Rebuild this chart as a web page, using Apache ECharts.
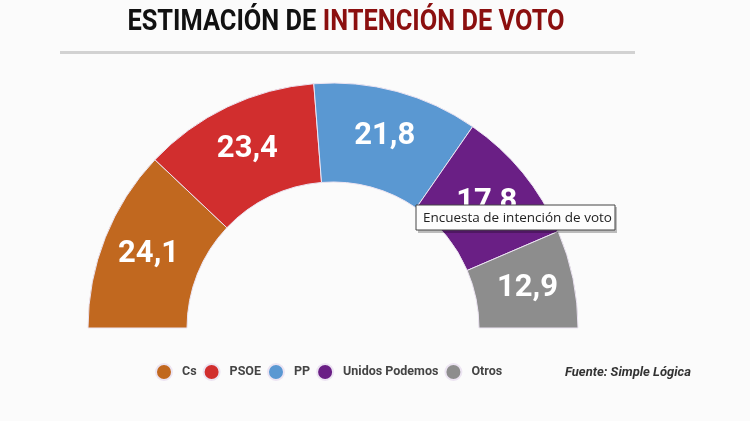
<!DOCTYPE html>
<html>
<head>
<meta charset="utf-8">
<script src="https://cdn.jsdelivr.net/npm/echarts@6/dist/echarts.min.js"></script>
<style>
  html, body { margin: 0; padding: 0; background: #fbfbfb; }
  #chart { width: 750px; height: 421px; }
</style>
</head>
<body>
<div id="chart"></div>
<script>
// datos de la estimación
var partidos = ['Cs', 'PSOE', 'PP', 'Unidos Podemos', 'Otros'];
var votos = [24.1, 23.4, 21.8, 17.8, 12.9];
var colores = ['#c1681f', '#d12e2e', '#5a98d2', '#6a1f85', '#8d8d8d'];

var myChart = echarts.init(document.getElementById('chart'));

var datos = [];
for (var i = 0; i < partidos.length; i++) {
    datos.push({ name: partidos[i], value: votos[i], itemStyle: { color: colores[i] } });
}

var option = {
    backgroundColor: '#fbfbfb',
    animation: false,
    legend: {
        data: partidos,
        left: 155,
        top: 363,
        padding: 0,
        icon: 'circle',
        itemWidth: 16,
        itemHeight: 16,
        itemGap: 6,
        selectedMode: false,
        textStyle: { fontSize: 12.5, fontWeight: 'bold', color: '#444', fontFamily: 'Roboto', padding: [0, 0, 0, 5] }
    },
    series: [{
        type: 'pie',
        center: [333, 328],
        radius: [146, 245],
        startAngle: 180,
        endAngle: 360,
        silent: true,
        itemStyle: { borderColor: '#ece4f2', borderWidth: 1 },
        label: {
            show: true,
            position: 'inside',
            color: '#fff',
            fontSize: 31,
            fontWeight: 'bold',
            fontFamily: 'Roboto',
            formatter: function (p) { return p.value.toFixed(1).replace('.', ','); }
        },
        labelLine: { show: false },
        data: datos
    }],
    graphic: [
        {
            type: 'group', x: 346, y: 23, scaleX: 0.876,
            children: [{
                type: 'text',
                style: {
                    text: '{a|ESTIMACIÓN DE }{b|INTENCIÓN DE VOTO}',
                    align: 'center', verticalAlign: 'middle',
                    rich: {
                        a: { fontSize: 29, fontWeight: 'bold', fontFamily: 'Roboto', fill: '#111' },
                        b: { fontSize: 29, fontWeight: 'bold', fontFamily: 'Roboto', fill: '#8b0f0f' }
                    }
                }
            }]
        },
        { type: 'rect', shape: { x: 60, y: 51, width: 575, height: 3 }, style: { fill: '#d2d2d2' } },
        {
            type: 'text', x: 565, y: 373,
            style: { text: 'Fuente: Simple Lógica', fontSize: 13, fontStyle: 'italic', fontWeight: 'bold', fontFamily: 'Roboto', fill: '#333', verticalAlign: 'middle' }
        },
        // recuadro de ayuda que aparece en la imagen original
        { type: 'rect', z: 100, shape: { x: 418, y: 207, width: 199, height: 26 }, style: { fill: 'rgba(0,0,0,0.25)' } },
        { type: 'rect', z: 101, shape: { x: 416, y: 205, width: 199, height: 25 }, style: { fill: '#fdfdfd', stroke: '#444', lineWidth: 1 } },
        { type: 'text', z: 102, x: 423, y: 218, style: { text: 'Encuesta de intención de voto', fontSize: 13.5, fontFamily: '"Open Sans"', fill: '#222', verticalAlign: 'middle' } }
    ]
};
myChart.setOption(option);
</script>
</body>
</html>
